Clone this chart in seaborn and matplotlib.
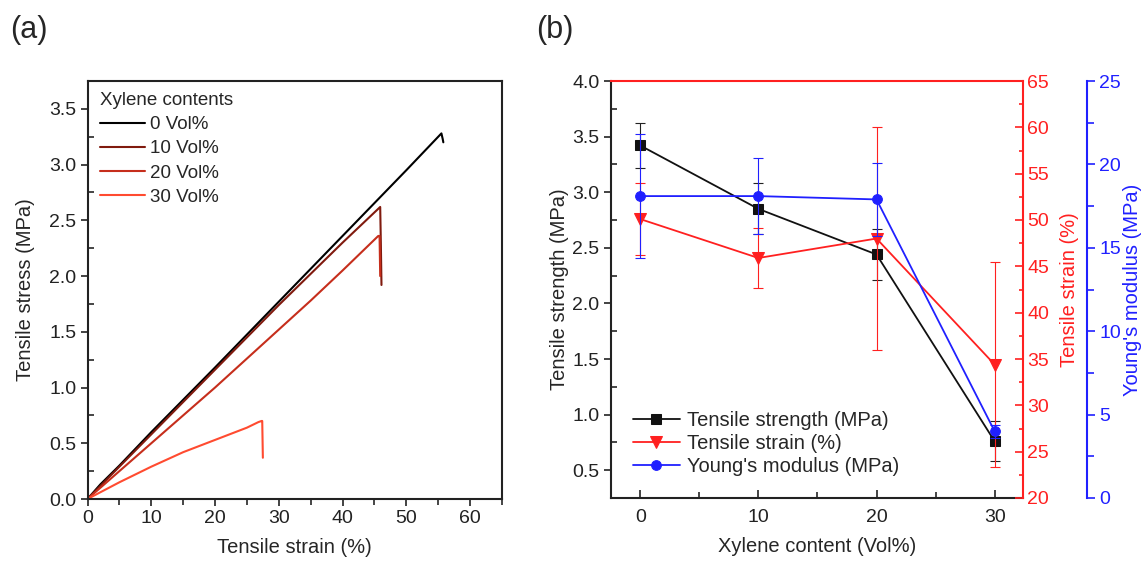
import matplotlib
matplotlib.use("Agg")
import matplotlib.pyplot as plt
import seaborn as sns
import pandas as pd
from matplotlib.ticker import MultipleLocator, FormatStrFormatter

sns.set_theme(style="ticks")
plt.rcParams['font.family'] = ['Liberation Sans', 'DejaVu Sans']
plt.rcParams['font.size'] = 12

# ---------------- data: panel (a) ----------------
series_names = ["0 Vol%", "10 Vol%", "20 Vol%", "30 Vol%"]
strain_0 = [0, 2, 5, 10, 20, 30, 40, 50, 55.5, 55.7, 55.8]
stress_0 = [0, 0.13, 0.30, 0.60, 1.18, 1.77, 2.36, 2.95, 3.28, 3.23, 3.20]
strain_10 = [0, 5, 10, 20, 30, 40, 45.9, 46.0, 46.1]
stress_10 = [0, 0.29, 0.58, 1.16, 1.74, 2.30, 2.62, 2.30, 1.92]
strain_20 = [0, 5, 10, 20, 30, 35, 40, 45.6, 45.8, 45.9]
stress_20 = [0, 0.25, 0.50, 1.00, 1.52, 1.78, 2.05, 2.36, 2.36, 2.00]
strain_30 = [0, 5, 10, 15, 20, 25, 26.8, 27.3, 27.4, 27.5]
stress_30 = [0, 0.15, 0.29, 0.42, 0.53, 0.64, 0.69, 0.70, 0.70, 0.37]
curve_colors = ["#000000", "#801A0E", "#C62E1C", "#FF4B30"]

# ---------------- data: panel (b) ----------------
xylene = [0, 10, 20, 30]
strength = [3.42, 2.85, 2.44, 0.76]
strength_err = [0.20, 0.23, 0.23, 0.18]
strain_b = [50.1, 45.9, 48.0, 34.4]
strain_b_err = [3.9, 3.25, 12.0, 11.1]
modulus = [18.1, 18.1, 17.9, 4.0]
modulus_err = [3.7, 2.3, 2.2, 0.4]

W, H = 1146, 561
fig = plt.figure(figsize=(W/100, H/100), dpi=100)

# ---------------- panel (a) ----------------
a_l, a_r, a_t, a_b = 87.5, 502, 81, 499
ax1 = fig.add_axes([a_l/W, 1-a_b/H, (a_r-a_l)/W, (a_b-a_t)/H])
rows = []
for name, xs, ys in zip(series_names,
                        [strain_0, strain_10, strain_20, strain_30],
                        [stress_0, stress_10, stress_20, stress_30]):
    for x, y in zip(xs, ys):
        rows.append({"strain": x, "stress": y, "series": name})
df_a = pd.DataFrame(rows)
sns.lineplot(data=df_a, x="strain", y="stress", hue="series",
             hue_order=series_names, palette=curve_colors, sort=False,
             estimator=None, units="series", linewidth=1.5, ax=ax1)
ax1.set_xlim(0, 65)
ax1.set_ylim(0, 3.75)
ax1.xaxis.set_major_locator(MultipleLocator(10))
ax1.xaxis.set_minor_locator(MultipleLocator(5))
ax1.yaxis.set_major_locator(MultipleLocator(0.5))
ax1.yaxis.set_minor_locator(MultipleLocator(0.25))
ax1.yaxis.set_major_formatter(FormatStrFormatter('%.1f'))
ax1.tick_params(axis='both', which='major', direction='out', length=5, width=1.2,
                labelsize=14, colors='#222222', pad=3)
ax1.tick_params(axis='y', which='minor', direction='in', length=4, width=1.2)
ax1.tick_params(axis='x', which='minor', direction='out', length=4, width=1.2)
for s in ax1.spines.values():
    s.set_linewidth(1.5)
    s.set_color('#222222')
ax1.set_xlabel("Tensile strain (%)", fontsize=14.5)
ax1.set_ylabel("Tensile stress (MPa)", fontsize=14.5)
ax1.xaxis.set_label_coords(0.5, -0.093)
ax1.yaxis.set_label_coords(-0.127, 0.5)
leg = ax1.legend(title="Xylene contents", loc="upper left", frameon=False,
                 fontsize=13.5, title_fontsize=13.5, handlelength=2.4,
                 handletextpad=0.27, labelspacing=0.38, borderaxespad=0,
                 bbox_to_anchor=(0.012, 0.992))
leg._legend_box.align = "left"
fig.text(10/W, 1-30/H, "(a)", fontsize=22, va='center', ha='left')

# ---------------- panel (b) ----------------
b_l, b_r, b_t, b_b = 610.7, 1023, 81, 498
ax2 = fig.add_axes([b_l/W, 1-b_b/H, (b_r-b_l)/W, (b_b-b_t)/H])
ax3 = ax2.twinx()
ax4 = ax2.twinx()

df_b = pd.DataFrame({"xylene": xylene, "strength": strength,
                     "strain": strain_b, "modulus": modulus})

ax2.errorbar(xylene, strength, yerr=strength_err, fmt='none', ecolor='#222222',
             elinewidth=0.8, capsize=3.5, capthick=0.8, zorder=2)
sns.lineplot(data=df_b, x="xylene", y="strength", color='#111111', marker='s',
             markersize=7, markeredgecolor='#111111', linewidth=1.3,
             label="Tensile strength (MPa)", ax=ax2, legend=False, zorder=3)

ax3.errorbar(xylene, strain_b, yerr=strain_b_err, fmt='none', ecolor='#FF2020',
             elinewidth=0.8, capsize=3.5, capthick=0.8, zorder=2)
sns.lineplot(data=df_b, x="xylene", y="strain", color='#FF2020', marker='v',
             markersize=8, markeredgecolor='#FF2020', linewidth=1.3,
             label="Tensile strain (%)", ax=ax3, legend=False, zorder=3)

ax4.errorbar(xylene, modulus, yerr=modulus_err, fmt='none', ecolor='#2020FF',
             elinewidth=0.8, capsize=3.5, capthick=0.8, zorder=2)
sns.lineplot(data=df_b, x="xylene", y="modulus", color='#2020FF', marker='o',
             markersize=7, markeredgecolor='#2020FF', linewidth=1.3,
             label="Young's modulus (MPa)", ax=ax4, legend=False, zorder=3)

ax2.set_xlim(-2.5, 32.4)
ax2.set_ylim(0.25, 4.0)
ax3.set_ylim(20, 65)
ax4.set_ylim(0, 25)

ax2.xaxis.set_major_locator(MultipleLocator(10))
ax2.xaxis.set_minor_locator(MultipleLocator(5))
ax2.yaxis.set_major_locator(MultipleLocator(0.5))
ax2.yaxis.set_minor_locator(MultipleLocator(0.25))
ax2.yaxis.set_major_formatter(FormatStrFormatter('%.1f'))
ax3.yaxis.set_major_locator(MultipleLocator(5))
ax3.yaxis.set_minor_locator(MultipleLocator(2.5))
ax4.yaxis.set_major_locator(MultipleLocator(5))
ax4.yaxis.set_minor_locator(MultipleLocator(2.5))

ax2.tick_params(axis='x', which='major', direction='in', length=6, width=1.2,
                labelsize=14, colors='#222222', pad=8)
ax2.tick_params(axis='x', which='minor', direction='in', length=4, width=1.2)
ax2.tick_params(axis='y', which='major', direction='out', length=5, width=1.2,
                labelsize=14, colors='#222222', pad=3)
ax2.tick_params(axis='y', which='minor', direction='in', length=4, width=1.2)
ax3.tick_params(axis='y', which='major', direction='in', length=6, width=1.2,
                labelsize=14, colors='#FF2020', pad=3)
ax3.tick_params(axis='y', which='minor', direction='in', length=3, width=1.2,
                colors='#FF2020')
ax4.tick_params(axis='y', which='major', direction='out', length=6, width=1.2,
                labelsize=14, colors='#2020FF', pad=3)
ax4.tick_params(axis='y', which='minor', direction='out', length=5, width=1.2,
                colors='#2020FF')

for s in ax2.spines.values():
    s.set_linewidth(1.5)
    s.set_color('#222222')
ax2.spines['top'].set_visible(False)
ax2.spines['right'].set_visible(False)
for name, s in ax3.spines.items():
    s.set_visible(name in ('right', 'top'))
    s.set_color('#FF2020')
    s.set_linewidth(1.5)
for name, s in ax4.spines.items():
    s.set_visible(name == 'right')
    s.set_color('#2020FF')
    s.set_linewidth(1.5)
ax4.spines['right'].set_position(('axes', 1 + 64/412.3))

ax2.set_xlabel("Xylene content (Vol%)", fontsize=14.5)
ax2.set_ylabel("Tensile strength (MPa)", fontsize=14.5)
ax3.set_ylabel("Tensile strain (%)", fontsize=14.5, color='#FF2020')
ax4.set_ylabel("Young's modulus (MPa)", fontsize=14.5, color='#2020FF')
ax2.xaxis.set_label_coords(0.5, -0.094)
ax2.yaxis.set_label_coords(-0.102, 0.5)
ax3.yaxis.set_label_coords(1.09, 0.5)
ax4.yaxis.set_label_coords(1.2425, 0.5)

handles, labels = [], []
for a in (ax2, ax3, ax4):
    h, l = a.get_legend_handles_labels()
    for hh, ll in zip(h, l):
        if ll and not ll.startswith('_'):
            handles.append(hh)
            labels.append(ll)
ax4.legend(handles, labels, loc='lower left', frameon=False, fontsize=14.5,
           handlelength=2.3, handletextpad=0.38, labelspacing=0.2,
           borderaxespad=0, bbox_to_anchor=(0.035, 0.034))
fig.text(536/W, 1-30/H, "(b)", fontsize=22, va='center', ha='left')

fig.savefig("out.png", dpi=100)
